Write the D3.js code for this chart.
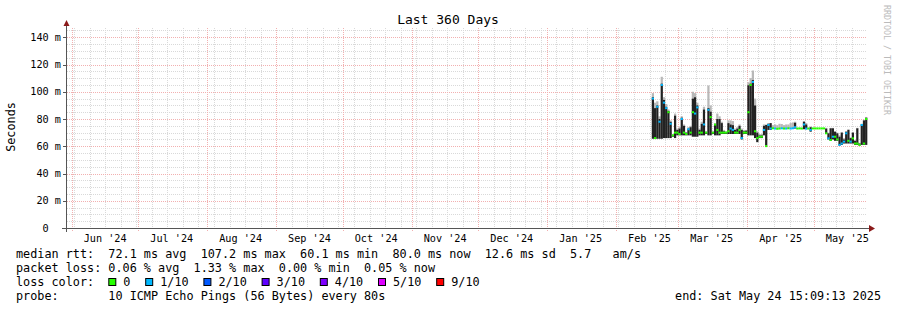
<!DOCTYPE html>
<html>
  <head>
    <meta charset="utf-8">
    <title>Last 360 Days</title>
    <style media="screen">
    body{margin: 0; background: #fff}
    text{font-family: "DejaVu Sans Mono", monospace; white-space: pre}
    </style>
  </head>
  <body>
    <script src="https://d3js.org/d3.v7.min.js"></script>
    <script type="text/javascript">
      var w = 897, h = 310;
      var DAY = 864e5;

      // time window of the graph
      var endTime = Date.UTC(2025, 4, 24, 15, 9, 13);
      var startTime = endTime - 360 * DAY;

      // daily samples, first one on this day
      var firstDay = Date.UTC(2025, 1, 17);

      // median rtt (ms) per day
      var median = [95, 66, 89, 78, 105, 92, 88, 85, 76.5, 68,
        70, 70, 69, 80, 70, 69, 72.5, 70, 85, 84,
        88.5, 70, 70, 76, 70, 86.7, 81.4, 70, 75.9, 72,
        70, 70, 70, 70, 71, 73, 72, 70, 70, 72,
        66, 70, 70, 85, 105, 107.2, 71, 66, 67, 67,
        72, 60.1, 75.6, 73, 73.2, 73, 72.8, 73, 73.2, 73,
        73, 73.2, 73, 73.2, 74, 73, 73.1, 73, 76, 73,
        73, 72, 73.1, 73.1, 73.1, 73.1, 73.1, 73.1, 69.5, 65.8,
        64.6, 67, 67, 65, 61, 62, 63.4, 69.5, 64, 63.4,
        65.8, 62, 62, 61, 75.6, 62, 80];
      // lost pings out of 10 per day
      var loss = [1, 0, 1, 1, 1, 1, 1, 0, 1, 0,
        0, 0, 0, 1, 0, 0, 1, 0, 0, 1,
        1, 0, 0, 1, 0, 1, 0, 0, 0, 0,
        0, 0, 0, 0, 0, 1, 1, 0, 0, 0,
        1, 0, 0, 0, 0, 1, 0, 0, 0, 0,
        1, 0, 1, 1, 0, 1, 0, 0, 1, 0,
        1, 0, 1, 1, 1, 0, 0, 0, 1, 1,
        0, 1, 0, 0, 0, 0, 0, 0, 0, 1,
        0, 1, 0, 0, 1, 1, 1, 1, 0, 1,
        0, 0, 0, 0, 1, 0, 0];
      // dense smoke: bottom and top (ms)
      var smokeLow = [65.5, 65.5, 65.5, 65.5, 65.5, 66, 66, 66, 66, 67,
        66, 68, 68, 68, 68, 68, 68, 68, 67, 67,
        67, 68, 68, 68, 69, 68, 68, 69, 68, 68,
        68, 69, 69, 69, 69, 69, 69, 69, 69, 69,
        65, 69, 69, 68, 68, 68, 66, 63, 66, 66,
        68, 60.5, 72, 72, 73, 73, 72.8, 73, 73, 73,
        73, 73, 73, 73, 73, 73, 73, 73, 72.5, 72.5,
        73, 70.7, 73.1, 73.1, 73.1, 73.1, 73.1, 73.1, 69, 65,
        64, 65, 64, 64, 60.5, 61, 62, 62, 62, 62,
        62, 61, 61, 60.5, 61, 61, 61];
      var smokeHigh = [96, 88, 90, 80, 106, 94, 89, 86, 78, 68,
        82.5, 72, 73, 81, 75, 70, 73, 74, 95, 96,
        90, 72, 76.5, 87, 70, 88, 85.4, 70, 76, 80,
        80, 77, 71, 70, 77, 76, 75.5, 72, 73, 75,
        72, 71, 71.5, 104.8, 106, 108.6, 90, 70, 68, 68,
        75, 75.6, 76.5, 77, 73.2, 73, 72.8, 73, 73.2, 73,
        73, 73.2, 73, 73.2, 77.3, 73, 73.1, 73, 78, 76,
        73, 74, 73.1, 73.1, 73.1, 73.1, 73.1, 73.1, 73, 69.5,
        73.2, 73.2, 70.7, 69.5, 67, 70, 65, 70.7, 72, 66,
        70, 64, 73.2, 62, 76, 79, 81];
      // light smoke top (ms)
      var smokeMax = [99, 92, 93, 82, 111, 96, 91, 87, 79, 69,
        84, 73, 74, 82, 76, 70.5, 74, 75, 100, 99,
        92, 73, 78, 89, 71, 104.6, 90, 71, 77, 84,
        82, 78, 72, 71, 79, 79, 78.5, 73, 74, 76,
        73, 72, 72, 107, 110, 115.6, 95, 71, 69, 69,
        76, 76, 77, 77, 75.5, 76, 75.5, 76.5, 76.3, 75.5,
        76, 76, 77, 77.5, 78, 73.5, 73.5, 73.5, 78.5, 77,
        73.5, 74.5, 73.1, 73.1, 73.1, 73.1, 73.1, 73.1, 73.5, 70,
        73.5, 73.5, 71, 70, 68, 70.5, 66, 71, 72.5, 66.5,
        70.5, 64.5, 73.5, 62.5, 76.5, 79.5, 81.5];

      // axes
      var yTicks = [0, 20, 40, 60, 80, 100, 120, 140];
      var yLabels = ['0  ', '20 m', '40 m', '60 m', '80 m', '100 m', '120 m', '140 m'];
      var xMonths = ['2024-06-01', '2024-07-01', '2024-08-01', '2024-09-01', '2024-10-01', '2024-11-01',
        '2024-12-01', '2025-01-01', '2025-02-01', '2025-03-01', '2025-04-01', '2025-05-01'];
      var xLabels = ["Jun '24", "Jul '24", "Aug '24", "Sep '24", "Oct '24", "Nov '24",
        "Dec '24", "Jan '25", "Feb '25", "Mar '25", "Apr '25", "May '25"];

      // legend
      var lossLabels = ['0', '1/10', '2/10', '3/10', '4/10', '5/10', '9/10'];
      var lossColors = ['#26ff00', '#00b8ff', '#0059ff', '#5e00ff', '#7e00ff', '#dd00ff', '#ff0000'];
      var rttLine = 'median rtt:  72.1 ms avg  107.2 ms max  60.1 ms min  80.0 ms now  12.6 ms sd  5.7   am/s';
      var lossLine = 'packet loss: 0.06 % avg  1.33 % max  0.00 % min  0.05 % now';
      var probeLine = 'probe:       10 ICMP Echo Pings (56 Bytes) every 80s';
      var endLine = 'end: Sat May 24 15:09:13 2025';

      var x = d3.scaleUtc().domain([startTime, endTime]).range([66.5, 866.5]);
      var y = d3.scaleLinear().domain([0, 146.8]).range([228, 28]);

      var svg = d3.select('body').append('svg')
        .attr('width', w)
        .attr('height', h)
        .style('display', 'block')

      svg.append('rect').attr('width', w).attr('height', h).attr('fill', '#fff')

      // grid
      var grid = svg.append('g').attr('shape-rendering', 'crispEdges')
      var minorY = d3.range(5, 146, 5).filter(function(v){ return v % 20 })
      grid.selectAll('.hmin').data(minorY).enter().append('line')
        .attr('x1', 67).attr('x2', 867)
        .attr('y1', function(d){ return Math.round(y(d)) + 0.5 })
        .attr('y2', function(d){ return Math.round(y(d)) + 0.5 })
        .attr('stroke', '#d9d9d9').attr('stroke-dasharray', '1,1')
      var weeks = d3.utcSunday.range(startTime, endTime)
      grid.selectAll('.vmin').data(weeks).enter().append('line')
        .attr('x1', function(d){ return Math.round(x(d)) + 0.5 })
        .attr('x2', function(d){ return Math.round(x(d)) + 0.5 })
        .attr('y1', 28).attr('y2', 230)
        .attr('stroke', '#d9d9d9').attr('stroke-dasharray', '1,1')
      grid.selectAll('.hmaj').data(yTicks.slice(1)).enter().append('line')
        .attr('x1', 67).attr('x2', 867)
        .attr('y1', function(d){ return Math.round(y(d)) + 0.5 })
        .attr('y2', function(d){ return Math.round(y(d)) + 0.5 })
        .attr('stroke', '#f2b0b0').attr('stroke-dasharray', '1,1')
      grid.selectAll('.vmaj').data(xMonths).enter().append('line')
        .attr('x1', function(d){ return Math.round(x(new Date(d))) + 0.5 })
        .attr('x2', function(d){ return Math.round(x(new Date(d))) + 0.5 })
        .attr('y1', 28).attr('y2', 231)
        .attr('stroke', '#f2b0b0').attr('stroke-dasharray', '1,1')

      // smoke and median
      var days = median.map(function(m, i){
        return {
          t0: firstDay + i * DAY, t1: firstDay + (i + 1) * DAY,
          med: m, loss: loss[i], lo: smokeLow[i], hi: smokeHigh[i], mx: smokeMax[i]
        }
      })
      var plot = svg.append('g')
      plot.selectAll('.light').data(days).enter().append('rect')
        .attr('x', function(d){ return x(d.t0) })
        .attr('width', function(d){ return x(d.t1) - x(d.t0) })
        .attr('y', function(d){ return y(d.mx) })
        .attr('height', function(d){ return y(d.hi) - y(d.mx) })
        .attr('fill', '#b8b8b8')
      plot.selectAll('.dark').data(days).enter().append('rect')
        .attr('x', function(d){ return x(d.t0) })
        .attr('width', function(d){ return x(d.t1) - x(d.t0) })
        .attr('y', function(d){ return y(d.hi) })
        .attr('height', function(d){ return y(d.lo) - y(d.hi) })
        .attr('fill', '#222')

      // median, one short step per day, coloured by loss
      plot.selectAll('.med').data(days).enter().append('line')
        .attr('x1', function(d){ return x(d.t0) })
        .attr('x2', function(d){ return x(d.t1) })
        .attr('y1', function(d){ return y(d.med) })
        .attr('y2', function(d){ return y(d.med) })
        .attr('stroke', function(d){ return lossColors[d.loss] })
        .attr('stroke-width', 2)

      // axes
      var axis = svg.append('g').attr('shape-rendering', 'crispEdges')
      axis.append('line').attr('x1', 66.5).attr('x2', 66.5).attr('y1', 26).attr('y2', 232)
        .attr('stroke', '#555')
      axis.append('line').attr('x1', 62).attr('x2', 869).attr('y1', 228.5).attr('y2', 228.5)
        .attr('stroke', '#555')
      axis.selectAll('.yt').data(yTicks).enter().append('line')
        .attr('x1', 63).attr('x2', 66)
        .attr('y1', function(d){ return Math.round(y(d)) + 0.5 })
        .attr('y2', function(d){ return Math.round(y(d)) + 0.5 })
        .attr('stroke', '#555')
      svg.append('path').attr('d', 'M63.5,26 L69.5,26 L66.5,20 Z').attr('fill', '#8b1a1a')
      svg.append('path').attr('d', 'M869,225 L869,232 L875,228.5 Z').attr('fill', '#8b1a1a')

      svg.selectAll('.ylab').data(yTicks).enter().append('text')
        .attr('x', 61).attr('y', function(d){ return y(d) })
        .attr('dy', '0.36em')
        .attr('text-anchor', 'end')
        .attr('font-size', '10.2px')
        .text(function(d, i){ return yLabels[i] })

      svg.selectAll('.xlab').data(xMonths).enter().append('text')
        .attr('x', function(d){ return x(new Date(d).getTime() + 15 * DAY) })
        .attr('y', 241.5)
        .attr('text-anchor', 'middle')
        .attr('font-size', '10.2px')
        .text(function(d, i){ return xLabels[i] })

      // titles
      svg.append('text').attr('x', 448).attr('y', 24)
        .attr('text-anchor', 'middle').attr('font-size', '13px')
        .text('Last 360 Days')
      svg.append('text').attr('transform', 'translate(14.5,127) rotate(-90)')
        .attr('text-anchor', 'middle').attr('font-size', '11.8px')
        .text('Seconds')
      svg.append('text').attr('transform', 'translate(884,5) rotate(90)')
        .attr('font-size', '8.3px').attr('fill', '#bbb')
        .text('RRDTOOL / TOBI OETIKER')

      // legend
      var legend = svg.append('g').attr('font-size', '11.8px')
      legend.append('text').attr('x', 16).attr('y', 258.3).text(rttLine)
      legend.append('text').attr('x', 16).attr('y', 272.3).text(lossLine)
      legend.append('text').attr('x', 16).attr('y', 286.2).text('loss color:')
      legend.append('text').attr('x', 16).attr('y', 300.2).text(probeLine)
      legend.append('text').attr('x', 881).attr('y', 300.2).attr('text-anchor', 'end').text(endLine)

      var cx = 108.3
      lossLabels.forEach(function(l, i){
        legend.append('rect').attr('x', cx + 0.5).attr('y', 278.5)
          .attr('width', 7).attr('height', 7)
          .attr('fill', lossColors[i]).attr('stroke', '#000').attr('stroke-width', 1)
        legend.append('text').attr('x', cx + 15).attr('y', 286.2).text(l)
        cx += 15 + l.length * 7.1 + 14.8
      })
    </script>
  </body>
</html>
